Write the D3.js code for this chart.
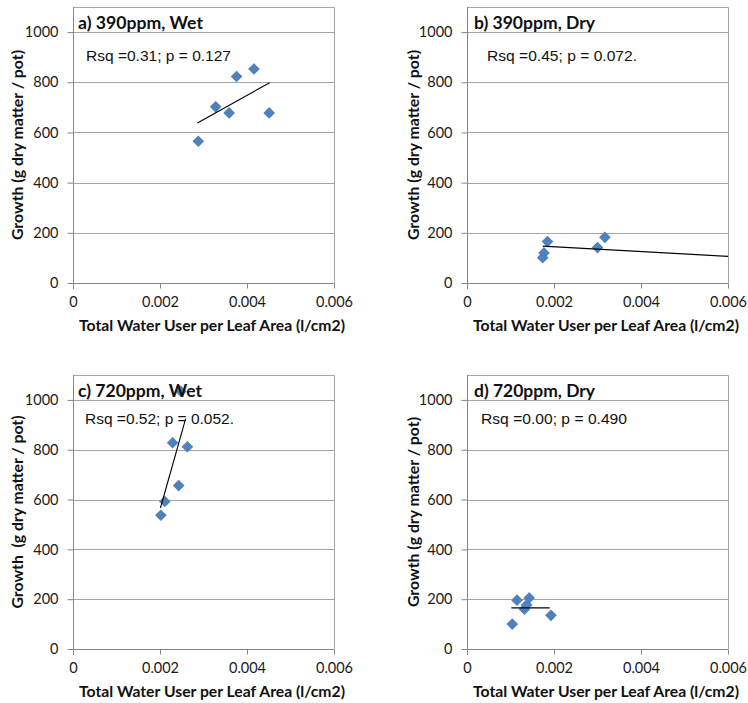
<!DOCTYPE html>
<html>
<head>
<meta charset="utf-8">
<script src="https://cdn.jsdelivr.net/npm/d3@7"></script>
<style>
  html, body { margin: 0; padding: 0; background: #ffffff; }
  svg { display: block; }
</style>
</head>
<body>
<script>
// Growth vs. total water use per leaf area, four CO2 / watering treatments

const panelTitles = ["a) 390ppm, Wet", "b) 390ppm, Dry", "c) 720ppm, Wet", "d) 720ppm, Dry"];
const statLabels = ["Rsq =0.31; p = 0.127", "Rsq =0.45; p = 0.072.", "Rsq =0.52; p = 0.052.", "Rsq =0.00; p = 0.490"];
const yTitles = ["Growth (g dry matter / pot)", "Growth (g dry matter / pot)", "Growth  (g dry matter / pot)", "Growth (g dry matter / pot)"];
const xTitle = "Total Water User per Leaf Area (l/cm2)";

const xTicks = [0, 0.002, 0.004, 0.006];
const xTickLabels = ["0", "0.002", "0.004", "0.006"];
const yTicks = [0, 200, 400, 600, 800, 1000];
const yTickLabels = ["0", "200", "400", "600", "800", "1000"];

// a) 390ppm, Wet
const waterA  = [0.00288, 0.00328, 0.00359, 0.00376, 0.00416, 0.00451];
const growthA = [565, 702, 678, 823, 853, 678];
const trendA  = [[0.00286, 638], [0.00452, 798]];

// b) 390ppm, Dry
const waterB  = [0.00174, 0.00177, 0.00185, 0.00300, 0.00317];
const growthB = [101, 120, 165, 141, 182];
const trendB  = [[0.00174, 147], [0.006, 106]];

// c) 720ppm, Wet
const waterC  = [0.00202, 0.00211, 0.00229, 0.00243, 0.00248, 0.00263];
const growthC = [537, 592, 828, 656, 1034, 812];
const trendC  = [[0.00201, 566], [0.00259, 925]];

// d) 720ppm, Dry
const waterD  = [0.00104, 0.00115, 0.00132, 0.00137, 0.00143, 0.00193];
const growthD = [100, 196, 160, 177, 205, 135];
const trendD  = [[0.00102, 165], [0.00190, 165]];

const waters  = [waterA, waterB, waterC, waterD];
const growths = [growthA, growthB, growthC, growthD];
const trends  = [trendA, trendB, trendC, trendD];

// ---- layout ----
const W = 748, H = 703;
const colLeft = [73, 467];
const plotW = 261;
const rowTop = [7, 375];
const rowBottom = [283, 649];
const titleOffset = [[5, 22], [7, 22], [5, 22], [7, 22]];
const statOffset = [[13, 54], [20, 54], [12, 49], [14, 49]];
const statWidths = [145, 150, 149, 146];
const titleWidths = [125, 121, 124, 121];

const gridColor = "#a6a6a6";
const axisColor = "#868686";
const pointColor = "#4f81bd";
const labelFont = "Lato, 'Liberation Sans', Arial, sans-serif";
const statFont = "'Liberation Sans', Arial, sans-serif";

const svg = d3.select("body").append("svg")
  .attr("width", W).attr("height", H)
  .attr("viewBox", `0 0 ${W} ${H}`);

const diamond = d3.symbol().type(d3.symbolSquare).size(68);

panelTitles.forEach((title, i) => {
  const col = i % 2, row = Math.floor(i / 2);
  const left = colLeft[col], right = left + plotW;
  const top = rowTop[row], bottom = rowBottom[row];

  const x = d3.scaleLinear().domain([0, 0.006]).range([left, right]);
  const y = d3.scaleLinear().domain([0, 1100]).range([bottom, top]);

  const g = svg.append("g").attr("class", "panel");

  // plot frame (top and right edges)
  g.append("path")
    .attr("d", `M${left},${top + 0.5}H${right + 0.5}V${bottom}`)
    .attr("fill", "none").attr("stroke", gridColor).attr("stroke-width", 1);

  // horizontal gridlines
  g.selectAll("line.grid").data(yTicks.filter(v => v > 0)).join("line")
    .attr("class", "grid")
    .attr("x1", left).attr("x2", right)
    .attr("y1", d => Math.round(y(d)) + 0.5).attr("y2", d => Math.round(y(d)) + 0.5)
    .attr("stroke", gridColor).attr("stroke-width", 1);

  // y axis
  const yAxis = d3.axisLeft(y).tickValues(yTicks)
    .tickFormat((d, k) => yTickLabels[k]).tickSize(6).tickPadding(9);
  const ya = g.append("g").attr("transform", `translate(${Math.round(left) + 0.5},0)`).call(yAxis);
  ya.select(".domain").attr("d", `M0,${top}V${bottom + 6}`).attr("stroke", axisColor);
  ya.selectAll(".tick line").attr("stroke", axisColor);
  ya.selectAll(".tick text").attr("fill", "#1a1a1a").attr("font-family", labelFont).attr("font-size", "14.5px");

  // x axis
  const xAxis = d3.axisBottom(x).tickValues(xTicks)
    .tickFormat((d, k) => xTickLabels[k]).tickSize(5).tickPadding(8);
  const xa = g.append("g").attr("transform", `translate(0,${Math.round(bottom) + 0.5})`).call(xAxis);
  xa.select(".domain").attr("d", `M${left},0H${right}`).attr("stroke", axisColor);
  xa.selectAll(".tick line").attr("stroke", axisColor);
  xa.selectAll(".tick text").attr("fill", "#1a1a1a").attr("font-family", labelFont).attr("font-size", "14.5px");

  // regression statistics
  g.append("text")
    .attr("x", left + statOffset[i][0]).attr("y", top + statOffset[i][1])
    .attr("font-family", statFont).attr("font-size", "15.5px").attr("fill", "#111")
    .attr("textLength", statWidths[i]).attr("lengthAdjust", "spacingAndGlyphs")
    .text(statLabels[i]);

  // observations
  const pts = waters[i].map((w, k) => [w, growths[i][k]]);
  g.selectAll("path.pt").data(pts).join("path")
    .attr("class", "pt")
    .attr("d", diamond)
    .attr("transform", d => `translate(${x(d[0])},${y(d[1])}) rotate(45)`)
    .attr("fill", pointColor);

  // fitted trend line
  g.append("path")
    .attr("d", d3.line().x(d => x(d[0])).y(d => y(d[1]))(trends[i]))
    .attr("fill", "none").attr("stroke", "#000").attr("stroke-width", 1.1);

  // panel title
  g.append("text")
    .attr("x", left + titleOffset[i][0]).attr("y", top + titleOffset[i][1])
    .attr("font-family", labelFont).attr("font-weight", "bold").attr("font-size", "16.5px")
    .attr("fill", "#111")
    .attr("textLength", titleWidths[i]).attr("lengthAdjust", "spacingAndGlyphs")
    .text(title);

  // y axis title
  const ytx = left - (col === 0 ? 55 : 53);
  const yty = (top + bottom) / 2;
  g.append("text")
    .attr("transform", `translate(${ytx},${yty}) rotate(-90)`)
    .attr("text-anchor", "middle").attr("dy", "0.35em")
    .attr("font-family", labelFont).attr("font-weight", "bold").attr("font-size", "14.5px")
    .attr("fill", "#111").style("white-space", "pre")
    .attr("textLength", i === 2 ? 193 : 190).attr("lengthAdjust", "spacingAndGlyphs")
    .text(yTitles[i]);

  // x axis title
  g.append("text")
    .attr("x", left + 139).attr("y", bottom + 48)
    .attr("text-anchor", "middle")
    .attr("font-family", labelFont).attr("font-weight", "bold").attr("font-size", "14.5px")
    .attr("fill", "#111")
    .attr("textLength", 266).attr("lengthAdjust", "spacingAndGlyphs")
    .text(xTitle);
});
</script>
</body>
</html>
